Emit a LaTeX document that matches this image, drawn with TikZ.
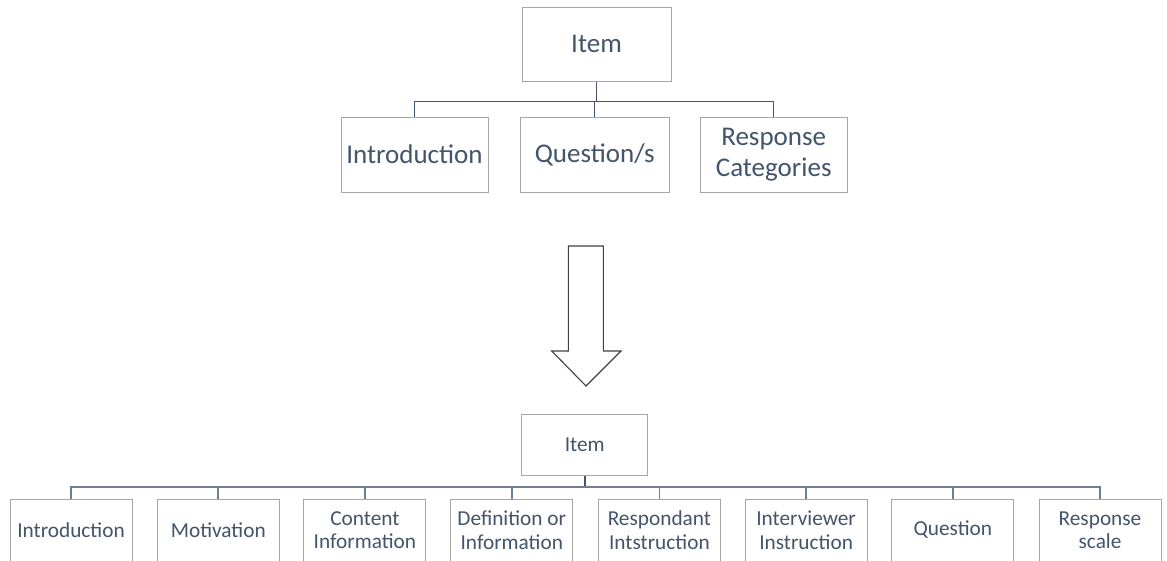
\documentclass[tikz,border=0pt]{standalone}
\usepackage{fontspec}
\setmainfont{Carlito}
\definecolor{txt}{HTML}{44546A}
\definecolor{boxline}{HTML}{A6A6A6}
\definecolor{linkdark}{HTML}{44546A}
\definecolor{linkmid}{HTML}{6F7F93}
\definecolor{arrowline}{HTML}{404040}
\tikzset{
  bigbox/.style={draw=boxline, line width=1pt, text=txt, align=center, inner sep=0pt,
    font=\fontsize{27}{30.5}\selectfont},
  smallbox/.style={draw=boxline, line width=1pt, text=txt, align=center, inner sep=0pt,
    minimum width=122, minimum height=62, font=\fontsize{21.3}{23.5}\selectfont},
  toplink/.style={draw=linkdark, line width=1.3pt},
  botlink/.style={draw=linkmid, line width=1.8pt},
  blockarrow/.style={draw=arrowline, line width=1.1pt, fill=white, line join=miter},
}
\begin{document}
\begin{tikzpicture}[x=1pt, y=-1pt]
\clip (0,0) rectangle (1167,560);
\fill[white] (0,0) rectangle (1167,560);

% upper hierarchy
\node[bigbox, minimum width=149, minimum height=74] (item) at (596.5,44) {Item};
\node[bigbox, minimum width=147, minimum height=75] (intro) at (414.5,154.5) {Introduction};
\node[bigbox, minimum width=149, minimum height=75] (quest) at (594.8,154.5) {Question/s};
\node[bigbox, minimum width=147, minimum height=75] (resp) at (773.7,154.5) {Response\\Categories};

\coordinate (tj) at (596.5,101.7);
\draw[toplink] (item.south) -- (tj);
\draw[toplink] (intro.north) -- (intro.north |- tj) -- (resp.north |- tj) -- (resp.north);
\draw[toplink] (quest.north) -- (quest.north |- tj);

% block arrow between the two levels
\draw[blockarrow] (568.3,246) -- (603.3,246) -- (603.3,351) -- (621,351)
  -- (586,386) -- (551.7,351) -- (568.3,351) -- cycle;

% lower hierarchy
\node[bigbox, minimum width=126, minimum height=61, font=\fontsize{21.3}{23.5}\selectfont] (item2) at (584.7,444.5) {Item};
\node[smallbox] (b1) at (71,530) {Introduction};
\node[smallbox] (b2) at (218.3,530) {Motivation};
\node[smallbox] (b3) at (364.9,530) {Content\\Information};
\node[smallbox] (b4) at (511.8,530) {Definition or\\Information};
\node[smallbox] (b5) at (659.4,530) {Respondant\\Intstruction};
\node[smallbox] (b6) at (806.1,530) {Interviewer\\Instruction};
\node[smallbox] (b7) at (952.8,530) {Question};
\node[smallbox] (b8) at (1100,530) {Response\\scale};

\coordinate (bj) at (584.7,487.3);
\draw[botlink, draw=linkdark] (item2.south) -- (bj);
\draw[botlink] (b1.north) -- (b1.north |- bj) -- (b8.north |- bj) -- (b8.north);
\foreach \n in {b2,b3,b4,b5,b6,b7}
  \draw[botlink] (\n.north) -- (\n.north |- bj);
\end{tikzpicture}
\end{document}
